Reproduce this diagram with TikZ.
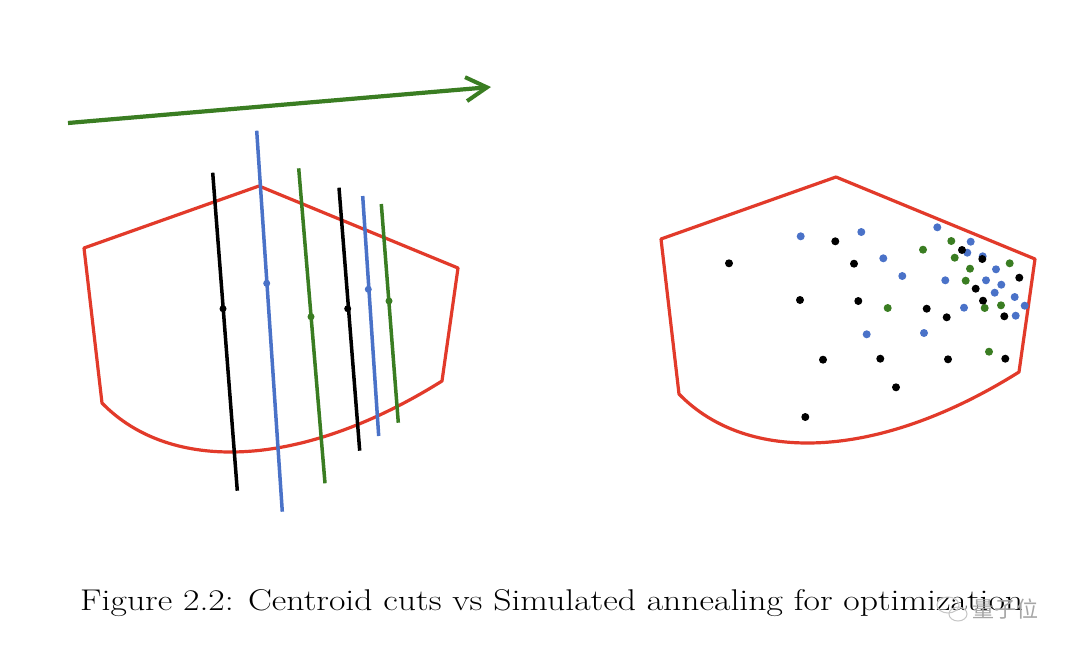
\documentclass[tikz,border=0pt]{standalone}
\usepackage{fontspec}
\newfontfamily\cjk{Noto Sans CJK SC}
\usetikzlibrary{arrows.meta}
\definecolor{cutred}{RGB}{226,58,42}
\definecolor{cutblue}{RGB}{74,114,200}
\definecolor{cutgreen}{RGB}{58,125,34}
\begin{document}
\begin{tikzpicture}[x=1pt,y=-1pt,
  region/.style={draw=cutred, line width=3.2pt, line join=round},
  cutline/.style={line width=3.5pt},
  cdot/.style={circle, inner sep=0pt, minimum size=7pt},
  pdot/.style={circle, inner sep=0pt, minimum size=8pt},
  bk/.style={fill=black}, bl/.style={fill=cutblue}, gr/.style={fill=cutgreen},
  wmark/.style={draw=gray!45, line width=1pt},
  arrowline/.style={draw=cutgreen, line width=4.2pt, -{Straight Barb[length=21pt,width=24pt,line width=4pt]}}]
\useasboundingbox[fill=white] (0,0) rectangle (1080,657);

% progress arrow
\coordinate (a0) at (68,123);
\coordinate (a1) at (491,87);
\draw[arrowline] (a0) -- (a1);

% regions (same shape, second shifted)
\draw[region] (84,248) -- (259,186) -- (458,268) -- (442,381)
  .. controls (300,470) and (170,473) .. (102,403) -- cycle;
\begin{scope}[shift={(577,-9)}]
\draw[region] (84,248) -- (259,186) -- (458,268) -- (442,381)
  .. controls (300,470) and (170,473) .. (102,403) -- cycle;
\end{scope}

% centroid cuts
\coordinate (c1t) at (212.7,172.7); \coordinate (c1b) at (237.3,490.7);
\coordinate (c2t) at (256.7,130.7); \coordinate (c2b) at (282.3,511.7);
\coordinate (c3t) at (298.7,168.3); \coordinate (c3b) at (325,483.3);
\coordinate (c4t) at (339,187.7);   \coordinate (c4b) at (359.7,450.7);
\coordinate (c5t) at (362.7,196);   \coordinate (c5b) at (378.7,436);
\coordinate (c6t) at (381.3,204);   \coordinate (c6b) at (398.3,422.7);
\draw[cutline, black] (c1t) -- (c1b);
\draw[cutline, cutblue] (c2t) -- (c2b);
\draw[cutline, cutgreen] (c3t) -- (c3b);
\draw[cutline, black] (c4t) -- (c4b);
\draw[cutline, cutblue] (c5t) -- (c5b);
\draw[cutline, cutgreen] (c6t) -- (c6b);
\node[cdot,bk] (k1) at (223,308.7) {};
\node[cdot,bl] (k2) at (266.7,283.3) {};
\node[cdot,gr] (k3) at (311,316.7) {};
\node[cdot,bk] (k4) at (347.7,308.7) {};
\node[cdot,bl] (k5) at (368.3,289.3) {};
\node[cdot,gr] (k6) at (389,301) {};

% simulated annealing samples
\foreach \x/\y [count=\i] in {800.7/236.3, 861.3/232, 883.3/258.3, 902.3/276, 937.3/227.3,
  970.7/241.7, 967.3/252.7, 982.7/256.3, 996/269.3, 945.3/280.3, 986/280.3, 1001.3/284.7,
  994.7/292.7, 1014.7/297, 1024.7/305.7, 1015.7/315.7, 964/307.7, 866.7/334.3, 924/333}
  \node[pdot,bl] (sb\i) at (\x,\y) {};
\foreach \x/\y [count=\i] in {951.3/241, 923/249.7, 954.7/257.7, 970/268.7, 1009.7/263.3,
  965.7/280.7, 887.7/308, 984.7/308, 1001/305.3, 989/351.7}
  \node[pdot,gr] (sg\i) at (\x,\y) {};
\foreach \x/\y [count=\i] in {729/263.3, 835.3/241.3, 854/263.7, 800/300, 858.3/301,
  926.7/308.7, 946.7/317.3, 962/250, 982.3/259, 1019.3/277.7, 975.7/288.7, 983/300.7,
  1004.3/316.3, 823/359.7, 880.3/358.7, 948/359.3, 1005.3/358.7, 896/387.3, 805.3/417}
  \node[pdot,bk] (sk\i) at (\x,\y) {};

% caption
\node[anchor=base west, inner sep=0pt] (cap) at (80,610)
  {\scalebox{1.19}[1]{\fontsize{30}{36}\selectfont Figure 2.2: Centroid cuts vs Simulated annealing for optimization}};
% watermark
\draw[wmark] (948,605) ellipse (11pt and 8pt);
\draw[wmark] (958,614) ellipse (9pt and 7pt);
\node[text=gray!70, font=\cjk\fontsize{22}{24}\selectfont, inner sep=0pt] (wm) at (1005,609) {量子位};
\end{tikzpicture}
\end{document}
